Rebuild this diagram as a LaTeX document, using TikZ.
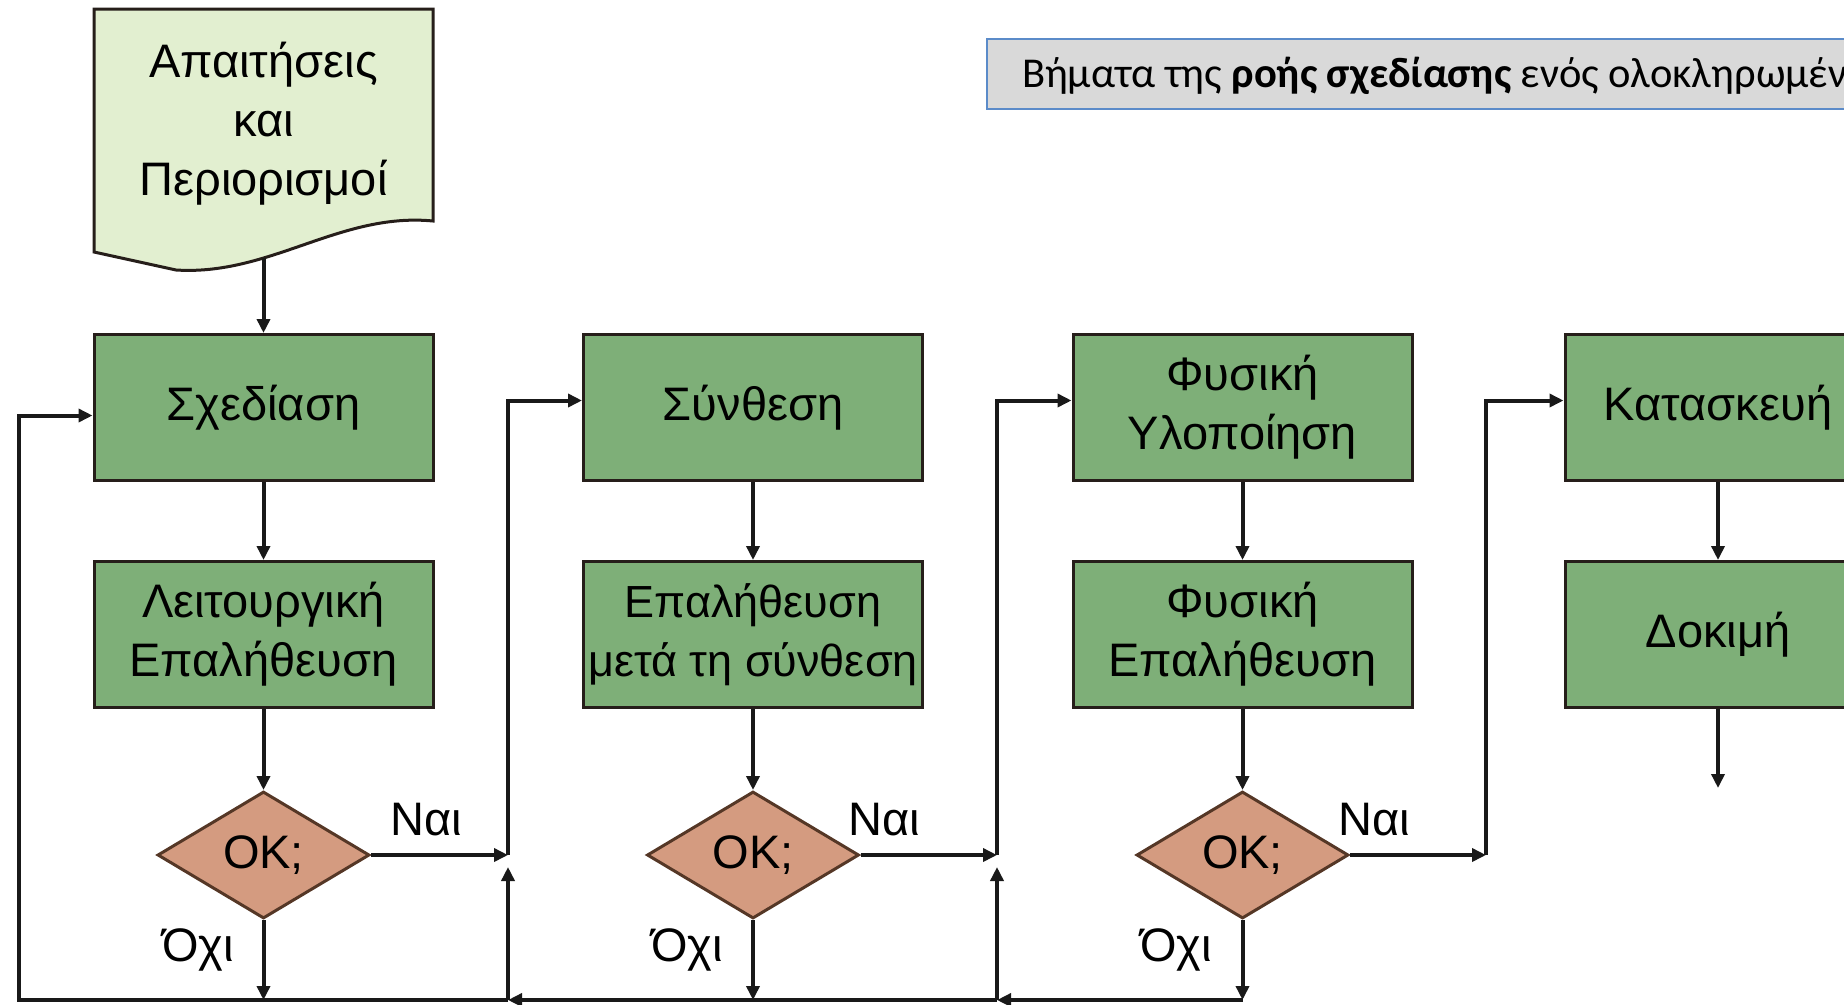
\documentclass[tikz,border=0pt]{standalone}
\usepackage{fontspec}
\setmainfont{Liberation Sans}
\newfontfamily\capfont{Carlito}
\usetikzlibrary{shapes.geometric,arrows.meta}

\definecolor{boxgreen}{RGB}{126,175,120}
\definecolor{docgreen}{RGB}{226,239,208}
\definecolor{okfill}{RGB}{212,155,128}
\definecolor{okedge}{RGB}{85,55,38}
\definecolor{boxedge}{RGB}{38,30,26}
\definecolor{capfill}{RGB}{217,217,217}
\definecolor{capedge}{RGB}{91,139,201}

\newcommand{\boxtext}{\fontsize{47}{59}\selectfont}

\begin{document}
\begin{tikzpicture}[x=1pt,y=-1pt,
  block/.style={draw=boxedge,fill=boxgreen,line width=3,minimum width=339,minimum height=146,inner xsep=0,align=center,font=\boxtext},
  okbox/.style={diamond,draw=okedge,fill=okfill,line width=3,minimum width=212,minimum height=127,aspect=1.67,inner sep=0,font=\boxtext},
  lbl/.style={font=\boxtext},
  arr/.style={draw=black!90,line width=4,-{Triangle[length=14,width=13]}},
  wire/.style={draw=black!90,line width=4}]
\useasboundingbox (0,0) rectangle (1844,1004);
\clip (0,0) rectangle (1844,1004);

% caption
\node[draw=capedge,fill=capfill,line width=2,minimum height=70,inner xsep=35,anchor=west,
  text height=30,text depth=4,font=\capfont\fontsize{42.5}{50}\selectfont] (cap) at (986,74)
  {Βήματα της \textbf{ροής σχεδίασης} ενός ολοκληρωμένου κυκλώματος};

% requirements
\draw[draw=boxedge,fill=docgreen,line width=3] (94,9) -- (433,9) -- (433,221)
  .. controls (340,212) and (270,276) .. (176,270) -- (94,252) -- cycle;
\node[align=center,font=\boxtext] (req) at (263.5,124) {Απαιτήσεις\\και\\Περιορισμοί};
\coordinate (reqb) at (263.5,258);

% column 1
\node[block] (s1) at (263.5,407.5) {Σχεδίαση};
\node[block] (v1) at (263.5,634.5) {Λειτουργική\\Επαλήθευση};
\node[okbox] (d1) at (263.5,855) {OK;};
% column 2
\node[block] (s2) at (753,407.5) {Σύνθεση};
\node[block,font=\fontsize{45}{59}\selectfont] (v2) at (753,634.5) {Επαλήθευση\\μετά τη σύνθεση};
\node[okbox] (d2) at (753,855) {OK;};
% column 3
\node[block] (s3) at (1242.5,407.5) {Φυσική\\Υλοποίηση};
\node[block] (v3) at (1242.5,634.5) {Φυσική\\Επαλήθευση};
\node[okbox] (d3) at (1242.5,855) {OK;};
% column 4
\node[block,minimum width=306] (k4) at (1718,407.5) {Κατασκευή};
\node[block,minimum width=306] (t4) at (1718,634.5) {Δοκιμή};
\coordinate (out) at (1718,788);

% yes / no
\node[lbl] (yes1) at (426,820) {Ναι};
\node[lbl] (yes2) at (884,820) {Ναι};
\node[lbl] (yes3) at (1374,820) {Ναι};
\node[lbl] (no1) at (198,950) {Όχι};
\node[lbl] (no2) at (687,950) {Όχι};
\node[lbl] (no3) at (1176,950) {Όχι};

% buses
\coordinate (fb) at (19,1000);
\coordinate (b1) at (508,1000);
\coordinate (b2) at (997,1000);
\coordinate (b3) at (1486,1000);

% down the columns
\draw[arr] (reqb) -- (s1);
\draw[arr] (s1) -- (v1);
\draw[arr] (v1) -- (d1);
\draw[arr] (s2) -- (v2);
\draw[arr] (v2) -- (d2);
\draw[arr] (s3) -- (v3);
\draw[arr] (v3) -- (d3);
\draw[arr] (k4) -- (t4);
\draw[arr] (t4) -- (out);

% no
\draw[arr] (d1.south) -- (d1.south |- fb);
\draw[arr] (d2.south) -- (d2.south |- fb);
\draw[arr] (d3.south) -- (d3.south |- fb);
\draw[wire] (b1) -- (d1.south |- b1);
\draw[wire] (b2) -- (d2.south |- b2);
\draw[arr] (d1.south |- fb) -- (fb) |- ([yshift=-8]s1.west);
\draw[arr] (d2.south |- b1) -- (b1);
\draw[arr] (d3.south |- b2) -- (b2);
\draw[arr,shorten >=12] (b1) -- (d1.east -| b1);
\draw[arr,shorten >=12] (b2) -- (d2.east -| b2);

% yes
\draw[arr] (d1.east) -- (d1.east -| b1);
\draw[arr] (d1.east -| b1) |- ([yshift=7]s2.west);
\draw[arr] (d2.east) -- (d2.east -| b2);
\draw[arr] (d2.east -| b2) |- ([yshift=7]s3.west);
\draw[arr] (d3.east) -- (d3.east -| b3);
\draw[arr] (d3.east -| b3) |- ([yshift=7]k4.west);
\end{tikzpicture}
\end{document}
